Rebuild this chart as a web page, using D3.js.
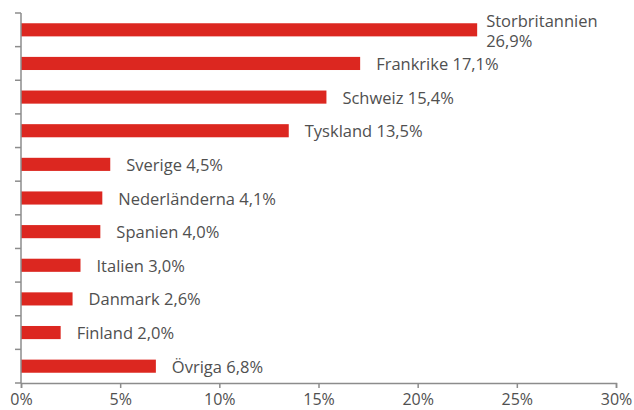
<!DOCTYPE html>
<html>
<head>
<meta charset="utf-8">
<script src="https://cdn.jsdelivr.net/npm/d3@7"></script>
<style>
  body { margin: 0; background: #fff; }
  text { font-family: "Open Sans", sans-serif; fill: #505050; }
</style>
</head>
<body>
<div id="chart"></div>
<script>
// data
const countries = ["Storbritannien", "Frankrike", "Schweiz", "Tyskland", "Sverige",
  "Nederländerna", "Spanien", "Italien", "Danmark", "Finland", "Övriga"];
const shares = ["26,9%", "17,1%", "15,4%", "13,5%", "4,5%", "4,1%", "4,0%", "3,0%", "2,6%", "2,0%", "6,8%"];
// bar lengths as drawn (the first bar is cut short in the original)
const barLengths = [23.0, 17.1, 15.4, 13.5, 4.5, 4.1, 4.0, 3.0, 2.6, 2.0, 6.8];
const xTicks = [0, 5, 10, 15, 20, 25, 30];

const W = 634, H = 410;
const margin = {top: 13, right: 18, bottom: 27, left: 21};
const width = W - margin.left - margin.right,
      height = H - margin.top - margin.bottom;

const svg = d3.select("#chart").append("svg")
    .attr("width", W)
    .attr("height", H)
  .append("g")
    .attr("transform", "translate(" + margin.left + "," + margin.top + ")");

const x = d3.scaleLinear().domain([0, 30]).range([0, width]);
const y = d3.scaleBand().domain(countries).range([0, height]).paddingInner(0.61).paddingOuter(0.305);

// bars
svg.append("g")
  .selectAll("rect")
  .data(countries)
  .enter()
  .append("rect")
    .attr("x", x(0))
    .attr("y", d => y(d))
    .attr("width", (d, i) => x(barLengths[i]) - x(0))
    .attr("height", y.bandwidth())
    .attr("fill", "#dc2720");

// labels
const labels = svg.append("g")
  .selectAll("text")
  .data(countries)
  .enter()
  .append("text")
    .attr("font-size", 16.5)
    .attr("dominant-baseline", "central");

labels.each(function(d, i) {
  const t = d3.select(this);
  const cy = y(d) + y.bandwidth() / 2;
  if (i === 0) {
    t.attr("x", x(barLengths[i]) + 9).attr("y", cy - 10);
    t.append("tspan").attr("x", x(barLengths[i]) + 9).text(d);
    t.append("tspan").attr("x", x(barLengths[i]) + 9).attr("dy", 20).text(shares[i]);
  } else {
    t.attr("x", x(barLengths[i]) + 16).attr("y", cy).text(d + " " + shares[i]);
  }
});

// y axis (ticks between bands)
const yAxis = svg.append("g");
yAxis.append("line")
  .attr("x1", 0).attr("x2", 0).attr("y1", 0).attr("y2", height)
  .attr("stroke", "#8c8c8c").attr("stroke-width", 1.5);
yAxis.selectAll(".tk")
  .data(d3.range(countries.length + 1))
  .enter()
  .append("line")
    .attr("x1", -6).attr("x2", 0)
    .attr("y1", i => i * y.step())
    .attr("y2", i => i * y.step())
    .attr("stroke", "#8c8c8c").attr("stroke-width", 1.5);

// x axis
const xAxis = svg.append("g")
  .attr("transform", "translate(0," + height + ")")
  .call(d3.axisBottom(x).tickValues(xTicks).tickFormat(d => d + "%").tickSize(5).tickPadding(6));
xAxis.select(".domain").attr("stroke", "#8c8c8c").attr("stroke-width", 1.5);
xAxis.selectAll(".tick line").attr("stroke", "#8c8c8c").attr("stroke-width", 1.5);
xAxis.selectAll(".tick text").attr("font-size", 16).attr("font-family", "Open Sans, sans-serif").attr("fill", "#505050");
</script>
</body>
</html>
